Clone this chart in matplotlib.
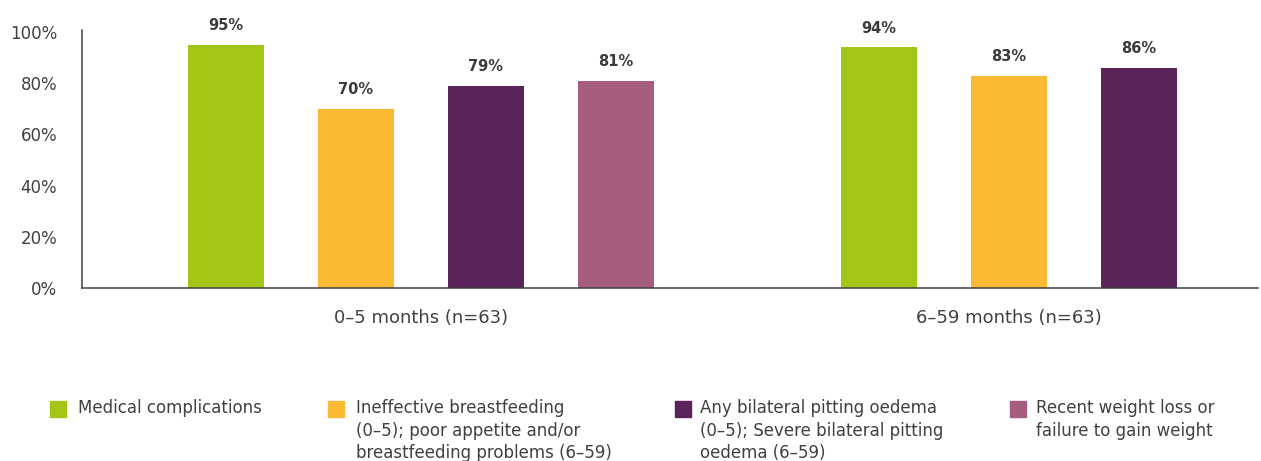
import matplotlib
matplotlib.use("Agg")
import matplotlib.pyplot as plt
from matplotlib.patches import Rectangle
import numpy as np

# ---- data ----
groups = ["0–5 months (n=63)", "6–59 months (n=63)"]
series = [
    "Medical complications",
    "Ineffective breastfeeding\n(0–5); poor appetite and/or\nbreastfeeding problems (6–59)",
    "Any bilateral pitting oedema\n(0–5); Severe bilateral pitting\noedema (6–59)",
    "Recent weight loss or\nfailure to gain weight",
]
values_0_5 = [95, 70, 79, 81]
values_6_59 = [94, 83, 86]
colors = ["#A3C516", "#FBBA33", "#5A2359", "#A65E80"]
yticks = [0, 20, 40, 60, 80, 100]
ytick_labels = ["0%", "20%", "40%", "60%", "80%", "100%"]

plt.rcParams["font.family"] = ["DejaVu Sans"]
TXT = "#404040"

fig = plt.figure(figsize=(12.61, 4.61), dpi=100)
W, H = 1261, 461
ax = fig.add_axes([82 / W, 1 - 288 / H, (1258 - 82) / W, (288 - 30) / H])

pitch = 0.221
bw = 0.128
group_values = [values_0_5, values_6_59]
for gi, vals in enumerate(group_values):
    n = len(vals)
    offsets = (np.arange(n) - (n - 1) / 2) * pitch
    for si, v in enumerate(vals):
        x = gi + offsets[si]
        ax.bar(x, v, width=bw, color=colors[si], zorder=2)
        ax.annotate(f"{v}%", (x, v), xytext=(0, 8.5), textcoords="offset points",
                    ha="center", va="bottom", fontsize=10.5, fontweight="bold",
                    color="#3A3A3A")

ax.set_xlim(-0.5765, 1.4235)
ax.set_ylim(0, 100.8)
ax.set_yticks(yticks)
ax.set_yticklabels(ytick_labels)
ax.set_xticks(range(len(groups)))
ax.set_xticklabels(groups)
ax.tick_params(axis="y", length=0, pad=18, labelsize=12, labelcolor=TXT)
ax.tick_params(axis="x", length=0, pad=15, labelsize=13, labelcolor=TXT)
for s in ["top", "right"]:
    ax.spines[s].set_visible(False)
for s in ["left", "bottom"]:
    ax.spines[s].set_color(TXT)
    ax.spines[s].set_linewidth(1.1)

# ---- legend (manual) ----
leg_sq_x = [50, 328, 675, 1010]
leg_txt_x = [78, 356, 700, 1036]
for i, lab in enumerate(series):
    fig.add_artist(Rectangle((leg_sq_x[i] / W, 1 - 417 / H), 16 / W, 16 / H,
                             transform=fig.transFigure, color=colors[i]))
    fig.text(leg_txt_x[i] / W, 1 - 399 / H, lab, ha="left", va="top",
             fontsize=12, color=TXT, linespacing=1.33)

fig.savefig("out.png", dpi=100)
